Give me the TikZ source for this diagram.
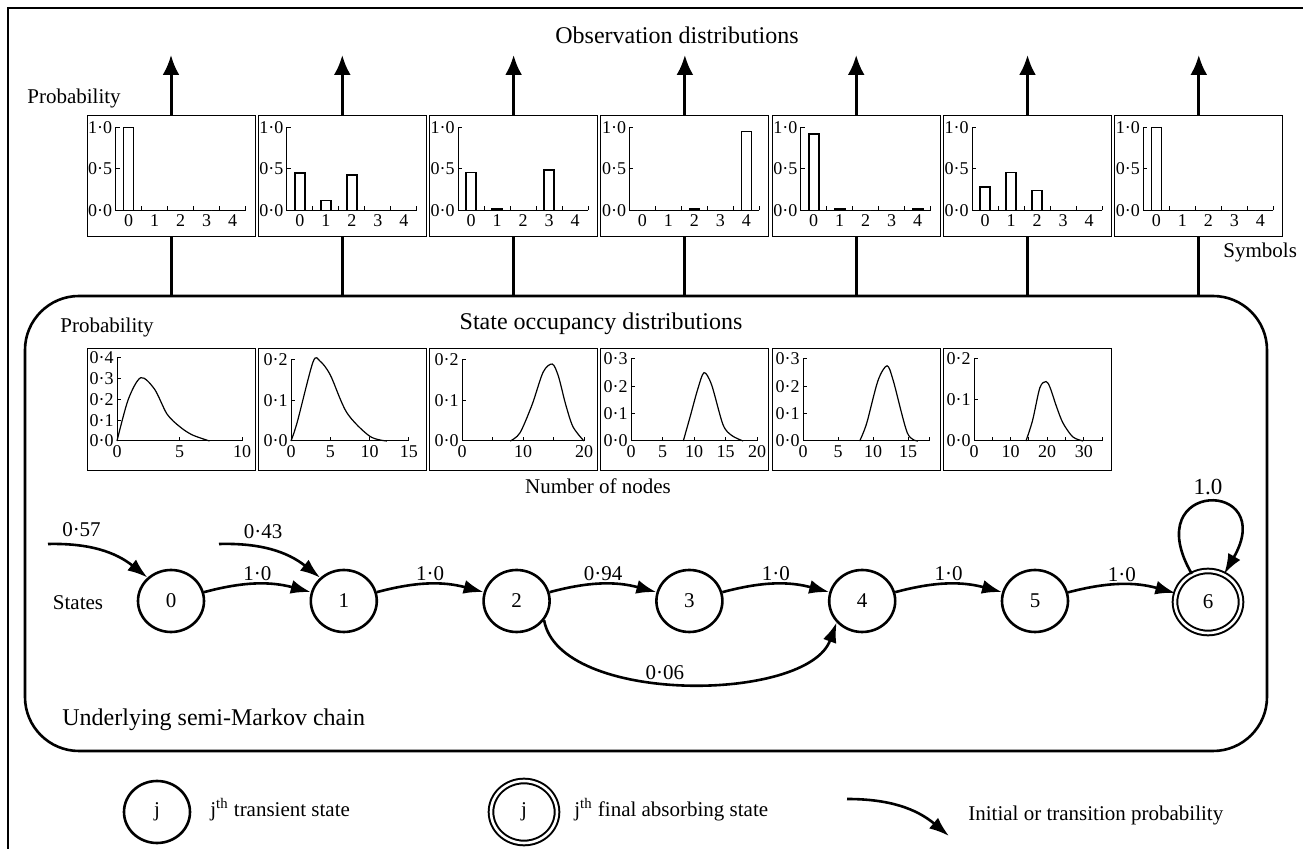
\documentclass[tikz,border=0pt]{standalone}
\usepackage{fontspec}
\setmainfont{Liberation Serif}
\usetikzlibrary{arrows.meta,shapes.geometric}

\begin{document}
\begin{tikzpicture}[x=0.5pt, y=-0.5pt,
    mstate/.style={ellipse, draw, line width=1.3pt, minimum width=33pt,
      minimum height=31pt, inner sep=0pt, font=\fontsize{10.5}{12}\selectfont},
    mfinal/.style={mstate, double, double distance=1.3pt, line width=1pt},
    transarrow/.style={line width=1.3pt, -{Latex[length=10pt,width=7pt]}},
    plotbox/.style={draw, line width=0.5pt, minimum width=84pt,
      minimum height=60.5pt, inner sep=0pt},
    obsline/.style={line width=1.5pt},
    axisline/.style={line width=0.5pt},
    bar/.style={line width=0.8pt, fill=white},
    curve/.style={line width=0.6pt, smooth, tension=0.5},
    axisnum/.style={font=\fontsize{9}{10}\selectfont, inner sep=0.5pt},
    ylab/.style={axisnum, anchor=east, xshift=-1pt},
    xlab/.style={axisnum, anchor=north, yshift=-1.5pt},
    lbl/.style={font=\fontsize{10.5}{12}\selectfont, inner sep=1pt},
    ttl/.style={font=\fontsize{12}{14}\selectfont, inner sep=1pt}
  ]
\useasboundingbox (0,0) rectangle (1303,849);
\draw[line width=1pt] (8,849) -- (8,8) -- (1303,8);

% semi-Markov chain frame
\node[draw, line width=1.3pt, rounded corners=27pt, minimum width=621pt,
  minimum height=227.5pt, inner sep=0pt] (chain) at (646,523.5) {};

% titles
\node[ttl] (obstitle) at (677,35) {Observation distributions};
\node[lbl, anchor=west] (obsprob) at (25,98) {Probability};
\node[lbl, anchor=west] (symbols) at (1221,252) {Symbols};
\node[lbl, anchor=west] (occprob) at (58,327) {Probability};
\node[ttl] (occtitle) at (601,324) {State occupancy distributions};
\node[lbl] (nbnodes) at (598,486) {Number of nodes};
\node[lbl] (states) at (78,603) {States};
\node[ttl, anchor=west] (chainlbl) at (60,720) {Underlying semi-Markov chain};

% observation distributions
\foreach \i/\a/\b/\c/\d/\e in {0/1.0/0/0/0/0, 1/0.45/0.12/0.43/0/0,
    2/0.46/0.02/0/0.49/0, 3/0/0/0.02/0/0.95, 4/0.92/0.02/0/0/0.02,
    5/0.28/0.46/0.24/0/0, 6/1.0/0/0/0/0} {
  \node[plotbox] (ob\i) at (171+171.3*\i,176.5) {};
  \coordinate (up\i) at (171+171.3*\i,55);
  \draw[obsline, -{Latex[length=10pt,width=8.5pt]}] (ob\i.north) -- (up\i);
  \draw[obsline] (ob\i.south) -- (ob\i.south |- chain.north);
  \begin{scope}[shift={(ob\i.north west)}]
    \draw[axisline] (29,12) -- (29,95) -- (159,95);
    \draw[axisline] (29,12) -- (33,12) (29,53.5) -- (33,53.5);
    \foreach \k in {1,...,5}
      \draw[axisline] (29+26*\k,95) -- (29+26*\k,91);
    \node[ylab] at (29,12) {1·0};
    \node[ylab] at (29,53.5) {0·5};
    \node[ylab] at (29,95) {0·0};
    \foreach \k in {0,...,4}
      \node[xlab] at (42+26*\k,95) {\k};
    \foreach \k/\v in {0/\a,1/\b,2/\c,3/\d,4/\e}
      \draw[bar] (37+26*\k,95) rectangle (47+26*\k,95-83*\v);
  \end{scope}
}

% state occupancy distributions
\foreach \i in {0,...,5}
  \node[plotbox, minimum height=61pt] (oc\i) at (171+171.3*\i,410) {};

\begin{scope}[shift={(117,441)}, x=6.25pt, y=103.75pt]
  \draw[axisline] (0,0.4) -- (0,0) -- (10,0);
  \foreach \s in {1,...,4} \draw[axisline] (0,\s/10) -- ++(2pt,0);
  \foreach \t in {5,10} \draw[axisline] (\t,0) -- ++(0,2pt);
  \foreach \s in {0,...,4} \node[ylab] at (0,\s/10) {0·\s};
  \foreach \t in {0,5,10} \node[xlab] at (\t,0) {\t};
  \draw[curve] plot coordinates {(0,0) (0.9,0.2) (1.9,0.305) (3,0.25)
    (4,0.13) (5,0.07) (6,0.03) (7.4,0)};
\end{scope}

\begin{scope}[shift={(291,441)}, x=3.93pt, y=202.5pt]
  \draw[axisline] (0,0.2) -- (0,0) -- (15,0);
  \foreach \s in {1,2} \draw[axisline] (0,\s/10) -- ++(2pt,0);
  \foreach \t in {5,10,15} \draw[axisline] (\t,0) -- ++(0,2pt);
  \foreach \s in {0,1,2} \node[ylab] at (0,\s/10) {0·\s};
  \foreach \t in {0,5,10,15} \node[xlab] at (\t,0) {\t};
  \draw[curve] plot coordinates {(0,0) (0.8,0.047) (2.8,0.195) (3.7,0.197)
    (5,0.163) (7.1,0.07) (10,0.012) (12.2,0)};
\end{scope}

\begin{scope}[shift={(462,441)}, x=3.05pt, y=202.5pt]
  \draw[axisline] (0,0.2) -- (0,0) -- (20,0);
  \foreach \s in {1,2} \draw[axisline] (0,\s/10) -- ++(2pt,0);
  \foreach \t in {5,10,15,20} \draw[axisline] (\t,0) -- ++(0,2pt);
  \foreach \s in {0,1,2} \node[ylab] at (0,\s/10) {0·\s};
  \foreach \t in {0,10,20} \node[xlab] at (\t,0) {\t};
  \draw[curve] plot coordinates {(7.9,0) (9.5,0.02) (11.5,0.09) (13.3,0.17)
    (14.8,0.19) (15.8,0.16) (17,0.09) (18.2,0.035) (20,0)};
\end{scope}

\begin{scope}[shift={(631,441)}, x=3.15pt, y=136.7pt]
  \draw[axisline] (0,0.3) -- (0,0) -- (20,0);
  \foreach \s in {1,2,3} \draw[axisline] (0,\s/10) -- ++(2pt,0);
  \foreach \t in {5,10,15,20} \draw[axisline] (\t,0) -- ++(0,2pt);
  \foreach \s in {0,...,3} \node[ylab] at (0,\s/10) {0·\s};
  \foreach \t in {0,5,10,15,20} \node[xlab] at (\t,0) {\t};
  \draw[curve] plot coordinates {(8.3,0) (9.4,0.09) (10.6,0.19) (11.6,0.25)
    (12.8,0.205) (14.6,0.06) (16,0.02) (17.8,0)};
\end{scope}

\begin{scope}[shift={(803,441)}, x=3.5pt, y=136.7pt]
  \draw[axisline] (0,0.3) -- (0,0) -- (18,0);
  \foreach \s in {1,2,3} \draw[axisline] (0,\s/10) -- ++(2pt,0);
  \foreach \t in {5,10,15,18} \draw[axisline] (\t,0) -- ++(0,2pt);
  \foreach \s in {0,...,3} \node[ylab] at (0,\s/10) {0·\s};
  \foreach \t in {0,5,10,15} \node[xlab] at (\t,0) {\t};
  \draw[curve] plot coordinates {(8.1,0) (9.1,0.065) (10.7,0.22) (12,0.275)
    (12.9,0.22) (14.9,0.03) (16.4,0)};
\end{scope}

\begin{scope}[shift={(974,441)}, x=1.83pt, y=205pt]
  \draw[axisline] (0,0.2) -- (0,0) -- (35,0);
  \foreach \s in {1,2} \draw[axisline] (0,\s/10) -- ++(2pt,0);
  \foreach \t in {5,10,...,35} \draw[axisline] (\t,0) -- ++(0,2pt);
  \foreach \s in {0,1,2} \node[ylab] at (0,\s/10) {0·\s};
  \foreach \t in {0,10,20,30} \node[xlab] at (\t,0) {\t};
  \draw[curve] plot coordinates {(14.2,0) (16,0.05) (18,0.13) (19.7,0.145)
    (20.8,0.13) (22.5,0.085) (24.3,0.044) (27,0.01) (29.8,0)};
\end{scope}

% states and transitions
\foreach \n in {0,...,5}
  \node[mstate] (n\n) at (171+172.8*\n,601) {\n};
\node[mfinal] (n6) at (1208,602) {6};

\coordinate (in0) at (48,544);
\coordinate (in1) at (219,544);
\draw[transarrow] (in0) to[bend left=20] node[lbl, pos=0.3, above=3pt] {0·57} (n0);
\draw[transarrow] (in1) to[bend left=20] node[lbl, pos=0.4, above=3pt] {0·43} (n1);
\draw[transarrow] (n0) to[bend left=15] node[lbl, above] {1·0} (n1);
\draw[transarrow] (n1) to[bend left=15] node[lbl, above] {1·0} (n2);
\draw[transarrow] (n2) to[bend left=15] node[lbl, above] {0·94} (n3);
\draw[transarrow] (n3) to[bend left=15] node[lbl, above] {1·0} (n4);
\draw[transarrow] (n4) to[bend left=15] node[lbl, above] {1·0} (n5);
\draw[transarrow] (n5) to[bend left=15] node[lbl, above] {1·0} (n6);
\draw[transarrow] (n2.-35) to[out=-80, in=-110, looseness=0.75]
  node[lbl, pos=0.45, above] {0·06} (n4.-140);
\draw[transarrow] (n6) to[out=120, in=60, distance=55pt]
  node[font=\fontsize{11.5}{13}\selectfont, above] {1.0} (n6);

% legend
\node[mstate] (legtrans) at (157,812) {j};
\node[lbl, anchor=west] (legtranstxt) at (208,810) {j\textsuperscript{th} transient state};
\node[mfinal] (legfinal) at (524,812) {j};
\node[lbl, anchor=west] (legfinaltxt) at (572,810) {j\textsuperscript{th} final absorbing state};
\coordinate (legfrom) at (847,799);
\coordinate (legto) at (949,836);
\draw[transarrow] (legfrom) to[bend left=20] (legto);
\node[lbl, anchor=west] (legarrowtxt) at (966,815) {Initial or transition probability};
\end{tikzpicture}
\end{document}
